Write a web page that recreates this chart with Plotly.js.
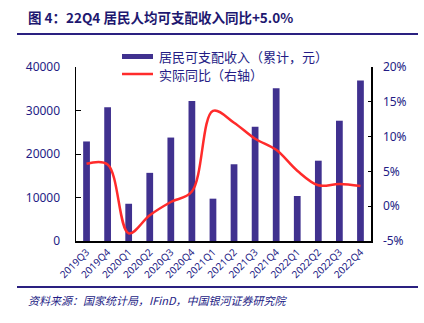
<!DOCTYPE html>
<html>
<head>
<meta charset="utf-8">
<script src="https://cdn.plot.ly/plotly-3.0.1.min.js"></script>
<style>html,body{margin:0;padding:0;background:#fff;}#chart{width:424px;height:323px;}</style>
</head>
<body>
<div id="chart"></div>
<script>
const quarters = ['2019Q3','2019Q4','2020Q1','2020Q2','2020Q3','2020Q4','2021Q1','2021Q2','2021Q3','2021Q4','2022Q1','2022Q2','2022Q3','2022Q4'];
const income = [22882, 30733, 8561, 15666, 23781, 32189, 9730, 17642, 26265, 35128, 10345, 18463, 27650, 36883];
const realYoY = [6.1, 6.0, -3.9, -1.3, 0.6, 2.1, 13.7, 12.0, 9.7, 8.1, 5.1, 3.0, 3.2, 2.9];
const leftTicks = [0, 10000, 20000, 30000, 40000];
const rightTicks = [-5, 0, 5, 10, 15, 20];

const navy = '#241c85';
const barColor = '#40318f';
const lineColor = '#ff2b2b';
const L = 76, R = 371, W = 295, T = 67, B = 241, H = 174;
const px = x => (x - L) / W;
const py = y => (B - y) / H;

const traces = [
  {type:'bar', x: quarters, y: income, marker:{color:barColor}, yaxis:'y', showlegend:false, hoverinfo:'skip'},
  {type:'scatter', mode:'lines', x: quarters, y: realYoY, yaxis:'y2', line:{color:lineColor, width:2.5, shape:'spline', smoothing:1}, showlegend:false, hoverinfo:'skip'}
];

const layout = {
  width:424, height:323,
  margin:{l:L, r:424-R, t:T, b:323-B},
  paper_bgcolor:'#fff', plot_bgcolor:'#fff',
  bargap:0.68,
  font:{family:'"Noto Sans", "Noto Sans CJK SC", sans-serif', color:navy},
  xaxis:{type:'category', showline:true, linecolor:'#000', linewidth:1.5, ticks:'', tickangle:-45,
         tickfont:{size:10, color:navy}, showgrid:false, zeroline:false},
  yaxis:{range:[0,40000], tickvals:leftTicks, ticktext:leftTicks.map(String), showline:true, linecolor:'#000', linewidth:1.5,
         ticks:'inside', ticklen:5, tickcolor:'#000', tickfont:{size:12, color:navy}, showgrid:false, zeroline:false, ticklabelstandoff:12},
  yaxis2:{range:[-5,20], overlaying:'y', side:'right', tickvals:rightTicks, ticktext:rightTicks.map(v=>v+'%'),
          showline:true, linecolor:'#000', linewidth:1.5, ticks:'inside', ticklen:3, tickcolor:'#000',
          tickfont:{size:12, color:navy}, showgrid:false, zeroline:false, ticklabelstandoff:8},
  shapes:[
    {type:'line', xref:'paper', yref:'paper', x0:px(17), x1:px(418), y0:py(34), y1:py(34), line:{color:'#2a2080', width:2}},
    {type:'line', xref:'paper', yref:'paper', x0:px(17), x1:px(418), y0:py(287), y1:py(287), line:{color:'#2a2080', width:2}},
    {type:'rect', xref:'paper', yref:'paper', x0:px(122), x1:px(153), y0:py(59), y1:py(54), fillcolor:barColor, line:{width:0}},
    {type:'line', xref:'paper', yref:'paper', x0:px(122), x1:px(153), y0:py(74), y1:py(74), line:{color:lineColor, width:2.5}}
  ],
  annotations:[
    {xref:'paper', yref:'paper', x:px(26), y:py(17), xanchor:'left', yanchor:'middle', showarrow:false,
     text:'<b>图 4：22Q4 居民人均可支配收入同比+5.0%</b>', font:{size:13.5, color:'#1e1870', family:'"Noto Sans CJK SC", "Liberation Serif", serif'}},
    {xref:'paper', yref:'paper', x:px(157), y:py(56.5), xanchor:'left', yanchor:'middle', showarrow:false,
     text:'居民可支配收入（累计，元）', font:{size:13, color:navy, family:'"Noto Sans CJK SC", sans-serif'}},
    {xref:'paper', yref:'paper', x:px(157), y:py(74), xanchor:'left', yanchor:'middle', showarrow:false,
     text:'实际同比（右轴）', font:{size:13, color:navy, family:'"Noto Sans CJK SC", sans-serif'}},
    {xref:'paper', yref:'paper', x:px(26), y:py(300), xanchor:'left', yanchor:'middle', showarrow:false,
     text:'<i>资料来源：国家统计局，IFinD，中国银河证券研究院</i>', font:{size:11, color:navy, family:'"Noto Sans CJK SC", sans-serif'}}
  ]
};
Plotly.newPlot('chart', traces, layout, {staticPlot:true, displayModeBar:false});
</script>
</body>
</html>
